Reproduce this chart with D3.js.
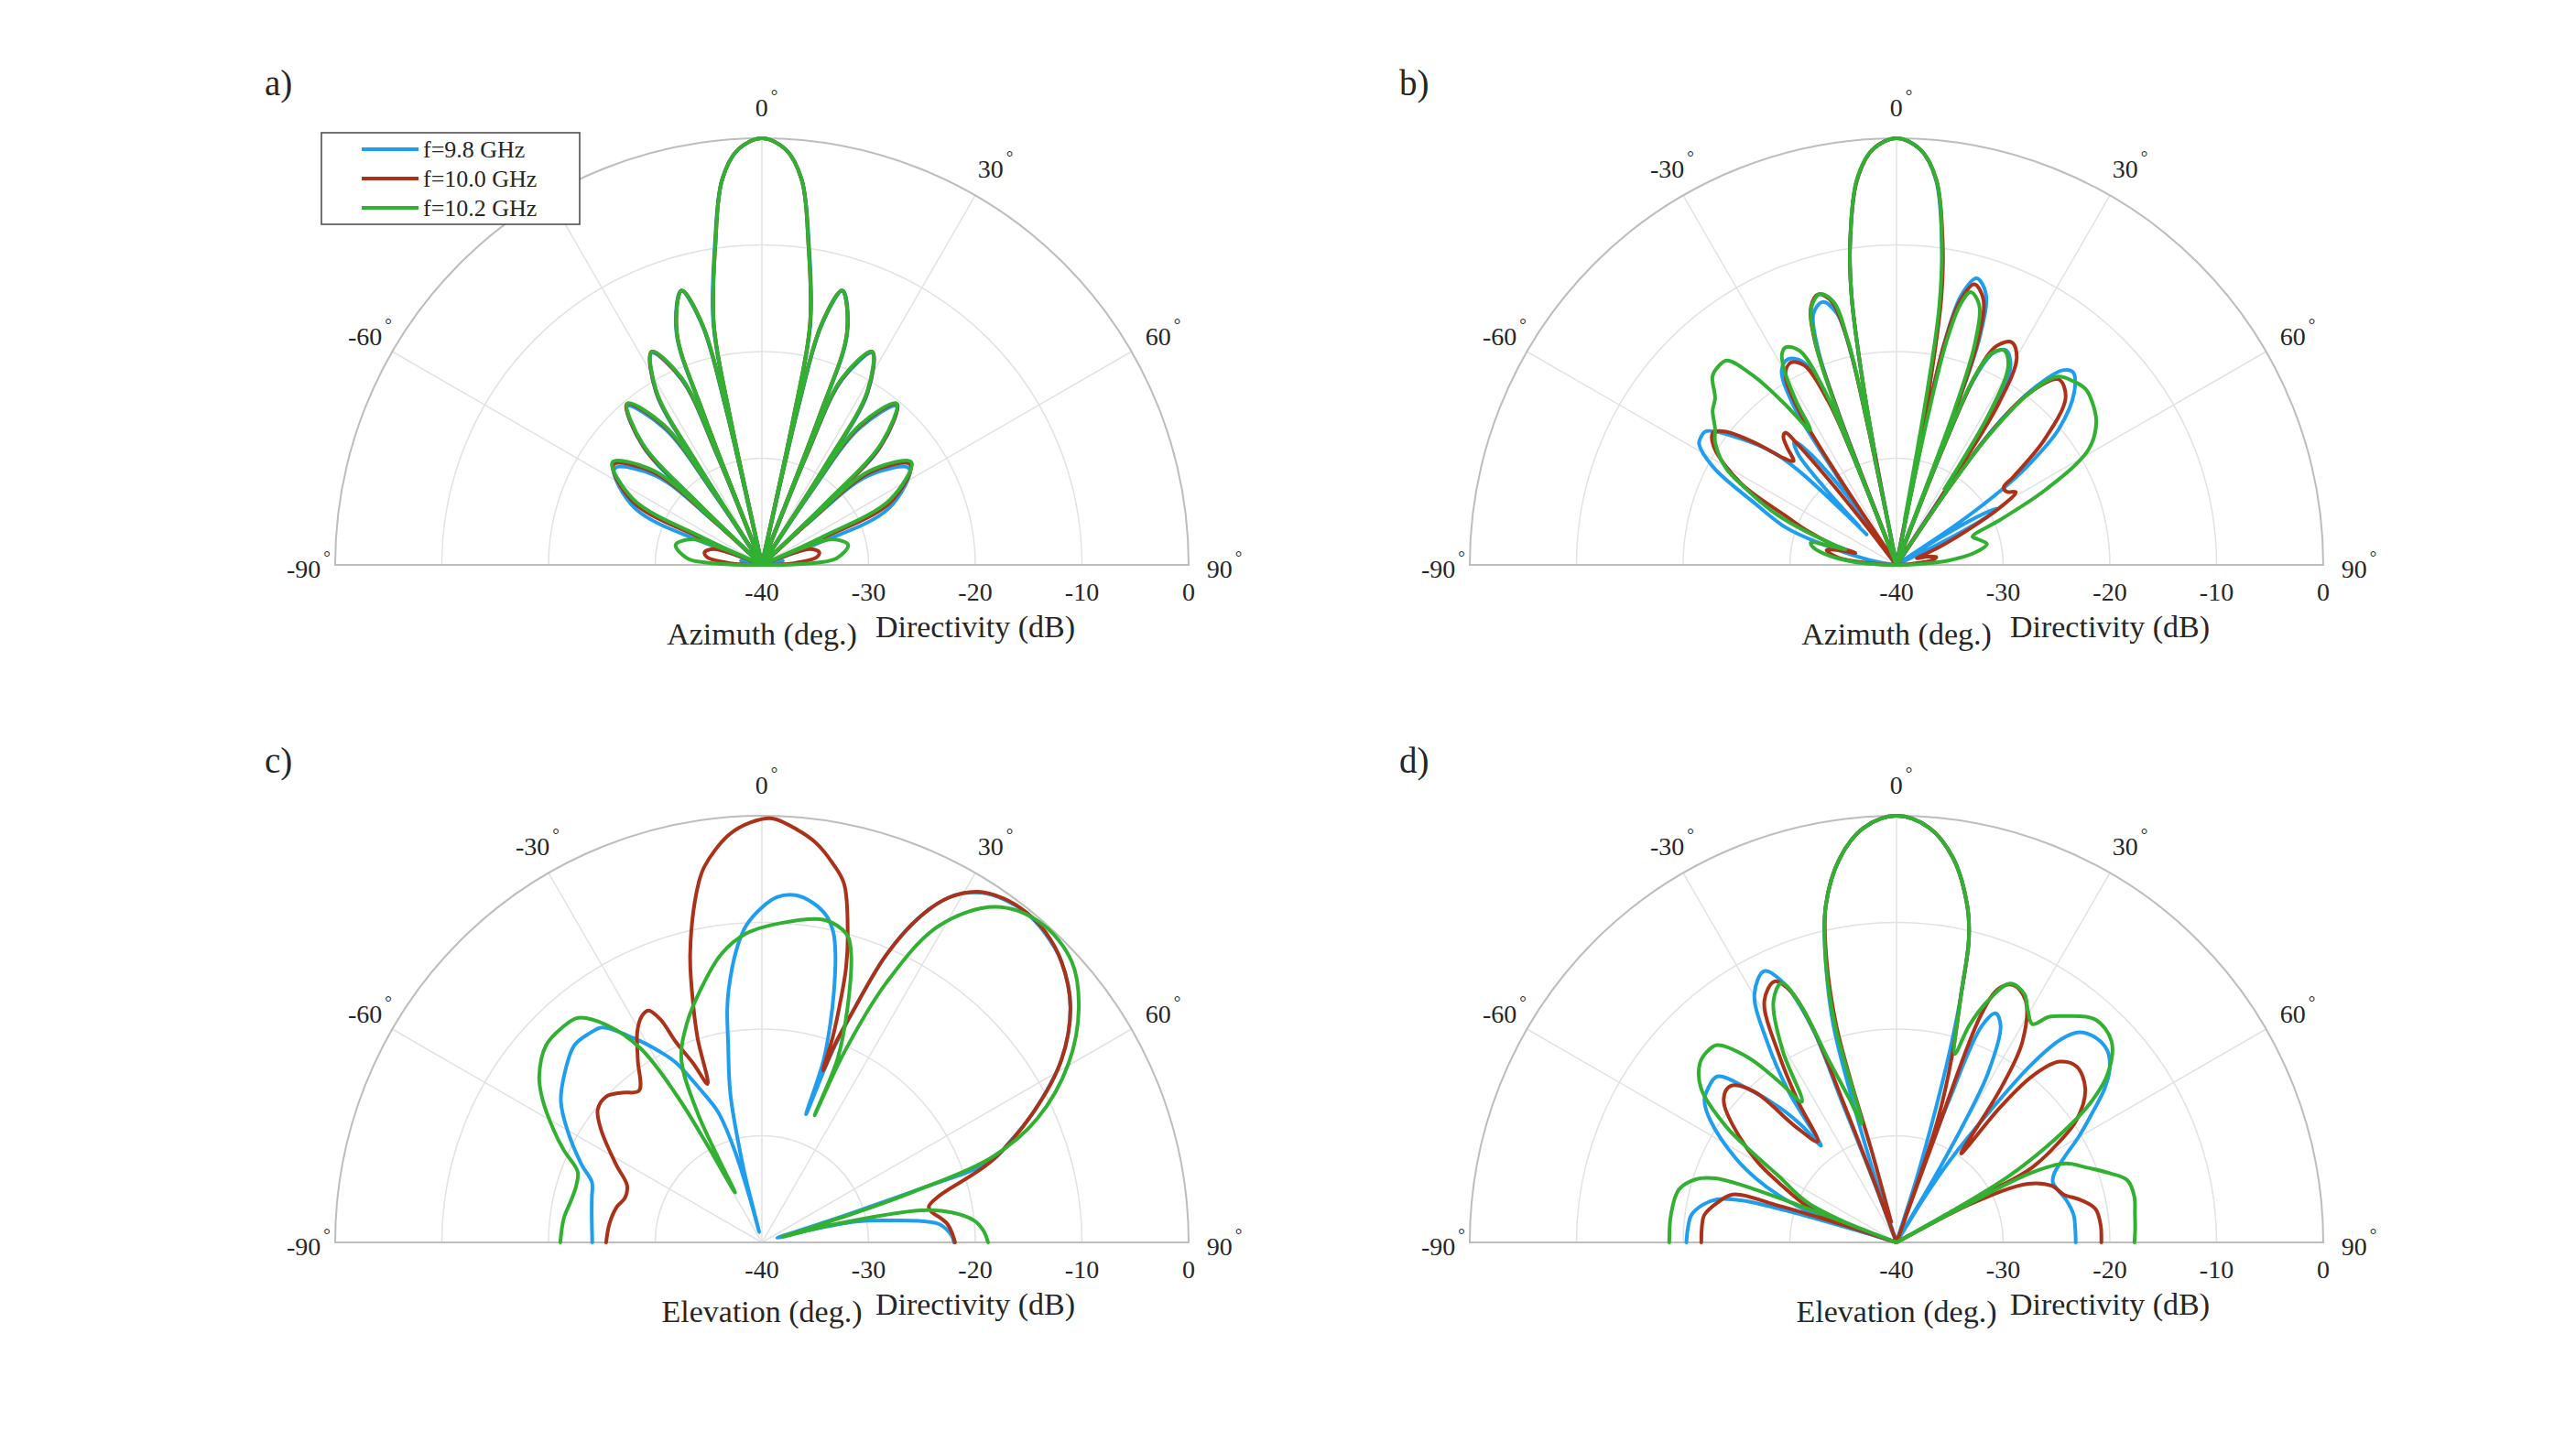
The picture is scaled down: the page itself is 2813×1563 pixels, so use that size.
<!DOCTYPE html>
<html>
<head>
<meta charset="utf-8">
<script src="https://cdn.jsdelivr.net/npm/d3@7"></script>
<style>
  body { margin: 0; background: #fff; }
  svg { display: block; }
  text { font-family: "Liberation Serif", "Times New Roman", serif; fill: #262626; }
</style>
</head>
<body>
<div id="chart"></div>
<script>
// ---- data: [angle (deg), directivity (dB)]; null = gap in the trace ----
const freqLabels = ["f=9.8 GHz", "f=10.0 GHz", "f=10.2 GHz"];
const panelLetters = ["a)", "b)", "c)", "d)"];
const angleAxisLabels = ["Azimuth (deg.)", "Azimuth (deg.)", "Elevation (deg.)", "Elevation (deg.)"];
const angleTicks = [-90, -60, -30, 0, 30, 60, 90];
const radialTicks = [-40, -30, -20, -10, 0];
const spokeAngles = [-60, -30, 0, 30, 60];

// a) azimuth
const azimuthA_98 = [[-90,-40],[-84,-38.5],[-79,-38],[-74,-38.7],[-70,-40],
  [-69,-35],[-66,-27],[-56.8,-23.5],[-50,-27],[-47.8,-34],[-47,-40],
  [-46.5,-32],[-45.1,-24.3],[-40.3,-20.5],[-35.5,-24.3],[-34,-32],[-33.3,-40],
  [-32.8,-29],[-31.6,-21.1],[-27.5,-17.6],[-23.4,-21.1],[-22.2,-29],[-21.6,-40],
  [-21.2,-25],[-20.2,-16.8],[-16.4,-13.2],[-14,-16.8],[-13,-25],[-12.6,-40],
  [-12.2,-26],[-11.4,-17],[-8.3,-9.5],[-5.9,-3.7],[-3.3,-1],[0,0],
  [3.3,-1],[5.9,-3.7],[8.3,-9.5],[11.4,-17],[12.2,-26],[12.6,-40],
  [13,-25],[14,-16.8],[16.4,-13.2],[20.2,-16.8],[21.2,-25],[21.6,-40],
  [22.2,-29],[23.4,-21.1],[27.5,-17.6],[31.6,-21.1],[32.8,-29],[33.3,-40],
  [34,-32],[35.5,-24.3],[40.3,-20.5],[45.1,-24.3],[46.5,-32],[47,-40],
  [47.8,-34],[50,-27],[56.8,-23.5],[66,-27],[69,-35],[70,-40],
  [74,-38.7],[79,-38],[84,-38.5],[90,-40]];
const azimuthA_100 = [[-90,-40],[-87,-37],[-82,-34.8],[-77.5,-34.5],[-72,-35.2],[-69,-37.5],[-67,-40],
  [-66.2,-34],[-64,-26.6],[-56,-23.2],[-49.5,-26.6],[-47.6,-34],[-46.8,-40],
  [-46.2,-32],[-44.8,-24.1],[-40,-20.3],[-35.2,-24.1],[-33.7,-32],[-33.1,-40],
  [-32.6,-29],[-31.4,-21],[-27.4,-17.5],[-23.3,-21],[-22.1,-29],[-21.5,-40],
  [-21.1,-25],[-20.1,-16.8],[-16.3,-13.2],[-13.9,-16.8],[-12.9,-25],[-12.5,-40],
  [-12.1,-26],[-11.3,-17],[-8.2,-9.5],[-5.9,-3.7],[-3.3,-1],[0,0],
  [3.3,-1],[5.9,-3.7],[8.2,-9.5],[11.3,-17],[12.1,-26],[12.5,-40],
  [12.9,-25],[13.9,-16.8],[16.3,-13.2],[20.1,-16.8],[21.1,-25],[21.5,-40],
  [22.1,-29],[23.3,-21],[27.4,-17.5],[31.4,-21],[32.6,-29],[33.1,-40],
  [33.7,-32],[35.2,-24.1],[40,-20.3],[44.8,-24.1],[46.2,-32],[46.8,-40],
  [47.6,-34],[49.5,-26.6],[56,-23.2],[64,-26.6],[66.2,-34],[67,-40],
  [69,-37.5],[72,-35.2],[77.5,-34.5],[82,-34.8],[87,-37],[90,-40]];
const azimuthA_102 = [[-90,-40],[-88.5,-36],[-85,-33],[-77,-31.7],[-70,-33],[-67.5,-36],[-66,-40],
  [-65.2,-34],[-63,-26.5],[-55.5,-23],[-49,-26.5],[-47.3,-34],[-46.5,-40],
  [-45.9,-32],[-44.5,-24],[-39.8,-20.3],[-35,-24],[-33.6,-32],[-33,-40],
  [-32.5,-29],[-31.3,-21],[-27.3,-17.5],[-23.2,-21],[-22,-29],[-21.5,-40],
  [-21.1,-25],[-20.1,-16.8],[-16.3,-13.2],[-13.9,-16.8],[-12.9,-25],[-12.5,-40],
  [-12.1,-26],[-11.3,-17],[-8.2,-9.5],[-5.9,-3.7],[-3.3,-1],[0,0],
  [3.3,-1],[5.9,-3.7],[8.2,-9.5],[11.3,-17],[12.1,-26],[12.5,-40],
  [12.9,-25],[13.9,-16.8],[16.3,-13.2],[20.1,-16.8],[21.1,-25],[21.5,-40],
  [22,-29],[23.2,-21],[27.3,-17.5],[31.3,-21],[32.5,-29],[33,-40],
  [33.6,-32],[35,-24],[39.8,-20.3],[44.5,-24],[45.9,-32],[46.5,-40],
  [47.3,-34],[49,-26.5],[55.5,-23],[63,-26.5],[65.2,-34],[66,-40],
  [67.5,-36],[70,-33],[77,-31.7],[85,-33],[88.5,-36],[90,-40]];

// b) azimuth
const azimuthB_98 = [[-90,-40],[-80,-37.5],[-74,-32.2],[-71.3,-29],[-66.7,-25.7],[-62,-20.6],[-58.5,-18.3],
  [-56.9,-18.1],[-54.9,-18.2],[-51,-21.2],[-47.5,-24.5],[-46,-27.5],[-45,-33],[-44.5,-36],[-44.3,null],
  [-44,-35],[-43,-30],[-41.5,-26],[-39.7,-25],[-38,-26.5],[-36.5,-29.5],[-35.3,-33],[-34.3,-40],
  [-33.8,-30],[-32.8,-22],[-30.5,-18.8],[-27.8,-18.2],[-24.8,-19],[-22.6,-23],[-21.8,-29],[-21.3,-40],
  [-20.9,-25],[-20,-18.5],[-18.3,-15.2],[-15.7,-14.4],[-13.3,-15.8],[-12.1,-20],[-11.6,-27],[-11.3,-40],
  [-10.9,-28],[-10.3,-21],[-9.5,-14.5],[-8.3,-9.8],[-5.9,-3.8],[-3.3,-1],[0,0],[3.3,-1],[5.9,-3.8],
  [8.1,-9.8],[9.4,-14.5],[10.2,-21],[10.8,-28],[11.3,-40],
  [11.6,-26],[12.2,-18.5],[13.5,-14],[15.6,-12.1],[18.2,-13.2],[20,-17],[20.8,-24],[21.2,-40],
  [21.7,-28],[22.7,-21],[24.5,-18.2],[27,-17.4],[29.8,-18.5],[31.9,-22.5],[33,-30],[33.5,-40],
  [34.2,-31],[35.5,-24],[38,-18.8],[40.5,-16],[42.4,-15.5],[45.7,-16.7],[50,-20.1],[52.9,-24.5],
  [54.5,-28],[56,-33],[57,-40],[58,-35],[59.3,-31],[60.6,-29.2],[62,-30.5],[63.5,-35],[64.5,-40]];
const azimuthB_100 = [[-90,-40],[-87,-38],[-83,-34.5],[-78,-33.3],[-75.5,-34.5],[-74,-36],[-72.5,-34],
  [-69,-31],[-66.3,-28.8],[-62.3,-23.5],[-57.1,-19.6],[-54.2,-18.8],[-52,-19.7],[-49.1,-22.6],
  [-46.5,-25.5],[-44.8,-26.3],[-43,-25],[-41.5,-24],[-40.1,-23.8],[-39.3,-25.5],[-38.5,-30],
  [-37.8,-36],[-35.5,-40],
  [-33.3,-30],[-32.2,-22.5],[-30.2,-19.3],[-27.6,-18.6],[-24.8,-19.4],[-22.6,-23.5],[-21.8,-29],[-21.3,-40],
  [-20.9,-24.5],[-20,-17.5],[-18.3,-14.5],[-16.1,-13.6],[-13.8,-14.6],[-12.3,-18.5],[-11.7,-26],[-11.5,-40],[-11.4,null],
  [-11.3,-35.5],[-10.9,-28],[-10.3,-21],[-9.5,-14.5],[-8.3,-9.8],[-5.9,-3.8],[-3.3,-1],[0,0],[3.3,-1],
  [5.9,-3.7],[8.2,-9.6],[9.5,-14.5],[10.3,-21],[10.9,-28],[11.3,-40],
  [11.6,-26],[12.2,-18.8],[13.5,-14.6],[15.5,-12.7],[18.1,-13.8],[19.9,-17.5],[20.8,-24.5],[21.2,-40],
  [21.7,-28],[22.7,-20.5],[24.6,-17.4],[27.4,-16.5],[30.2,-17.6],[32.3,-22],[33.2,-30],[33.6,-40],
  [34.3,-31],[35.5,-24.5],[37.8,-19.5],[41.2,-16.9],[45.3,-17.7],[49.8,-21.9],[53,-26.3],[54.1,-27.6],
  [56.4,-27.6],[58.6,-26.9],[61,-28.9],[63.8,-32.4],[67.5,-35.7],[70,-37.5],[72,-38],[75,-37],
  [78.7,-36.2],[82,-36.5],[86,-38.5],[90,-40]];
const azimuthB_102 = [[-90,-40],[-88,-38],[-86,-36],[-82,-33.5],[-78,-32],[-75.4,-31.7],[-74.2,-33],
  [-73.3,-35],[-72,-33.7],[-69,-30],[-66.5,-27.2],[-63,-24],[-60.4,-21.6],[-56,-19.5],[-53,-18.7],
  [-50,-17.5],[-47.4,-16.9],[-44.3,-15.3],[-42,-15],[-39.7,-15.1],[-37.1,-17.8],[-34.8,-21.6],
  [-32.6,-25],[-31.5,-22],[-30,-19],[-28.5,-17.5],[-26.9,-17.1],[-24.3,-18],[-22.5,-22],[-21.8,-28],[-21.5,-40],
  [-21.1,-25],[-20.1,-18],[-18.3,-14.6],[-15.8,-13.6],[-13.5,-14.6],[-12.2,-18.5],[-11.6,-26],[-11.4,-40],[-11.2,null],
  [-11,-29.3],[-10.3,-21],[-9.5,-14.5],[-8.2,-9.5],[-5.9,-3.7],[-3.3,-1],[0,0],[3.3,-1],[5.9,-3.7],
  [8.1,-9.8],[9.4,-15.5],[10,-23],[10.3,-35.8],[10.5,null],
  [11.5,-40],[11.9,-26],[12.6,-18.5],[13.8,-14.8],[15.2,-13.5],[17.6,-14.4],[19.5,-18],[20.5,-24.5],[21,-40],
  [21.6,-28],[22.5,-21],[24.3,-18.2],[26.7,-17.5],[29.3,-18.6],[31.4,-23],[32.3,-31.6],[32.5,null],
  [33.5,-40],[34.3,-31],[35.5,-25],[37.5,-20],[40.5,-16.8],[43.9,-16.1],[47,-15.8],[50,-16.1],
  [54.5,-17],[59,-19],[63.2,-24.3],[66.5,-29.4],[69.6,-32.4],[72.5,-32],[77,-31.3],[81,-32.5],
  [85,-35],[88,-38],[90,-40]];

// c) elevation
const elevationC_98 = [[-90,-24.1],[-80,-23.8],[-75,-23.5],[-70.5,-23.1],[-66.7,-21.6],[-59.9,-18.9],
  [-55,-17],[-50.1,-15.8],[-43.6,-14.5],[-39.5,-14.6],[-36.6,-14.9],[-32.1,-17.4],[-28,-19.8],
  [-25.6,-21.3],[-22,-24.5],[-18.6,-27.1],[-16.5,-31],[-15.2,-36],[-14.7,-39],[-14.2,-34],
  [-13.9,-32.5],[-12,-25.8],[-9.6,-21],[-8.5,-18],[-7.5,-16.1],[-5,-12.5],[-2.9,-10.3],[0,-8.6],
  [2.5,-7.6],[5.5,-7.3],[8.5,-7.8],[11.2,-8.8],[13,-10.2],[14.3,-12.1],[16,-15.5],[17.4,-18.6],
  [18.7,-22],[19,-27.3],[19.6,-24.5],[20.2,-21],[21.4,-17],[23.4,-10.6],[26,-5.9],[29,-2.8],
  [32.1,-1.3],[35.5,-0.6],[38.7,-0.4],[42.5,-0.7],[46.8,-1.5],[52.6,-3.6],[58.6,-7.1],[64.4,-11.8],
  [68,-15],[70.5,-17.2],[71.3,-24],[71.8,-30],[72.5,-36],[73.5,-38.5],[75.5,-35.5],[77.5,-31],
  [80,-28.1],[84.1,-23.3],[88,-22.2],[90,-22]];
const elevationC_100 = [[-90,-25.4],[-83,-25.6],[-76.2,-26],[-72,-26.5],[-67.2,-26.3],[-61.9,-24.5],
  [-55,-21.6],[-51,-20.2],[-46.9,-20],[-43,-20.8],[-39,-21.7],[-34.2,-19.3],[-30.5,-17],[-28,-16],
  [-26.1,-15.8],[-24.5,-17],[-23.2,-19.6],[-21,-22],[-18.9,-24.3],[-17.5,-20],[-16.2,-17],[-14,-12.2],
  [-10.5,-6.5],[-8.75,-4.4],[-4.7,-1.7],[-1.5,-0.6],[1.4,-0.24],[5,-1.2],[7.7,-2.2],[10.5,-3.8],
  [12.9,-5.5],[15.5,-9.9],[17,-13],[18,-16.1],[19,-19.5],[19.6,-22.9],[20.3,-20],[21.4,-17],
  [23.4,-10.6],[26,-5.9],[28.5,-3.2],[31.6,-1.4],[35,-0.6],[38.7,-0.35],[42.5,-0.6],[46.8,-1.5],
  [52.6,-3.6],[58.6,-7.1],[64.4,-11.8],[70.5,-17.2],[75.4,-22.9],[77.9,-24],[80,-23.8],[81.9,-23.2],
  [84.5,-22.5],[87.7,-22.1],[90,-21.9]];
const elevationC_102 = [[-90,-21.1],[-83,-21.3],[-77.4,-21.7],[-73,-21.8],[-69,-21.5],[-65,-19.5],
  [-61.6,-17.8],[-57,-15.5],[-53.4,-14],[-47.6,-12.6],[-43,-12.5],[-39.3,-12.8],[-35.6,-14.9],
  [-32,-18.6],[-30.1,-24],[-29.3,-29],[-28.3,-34.7],[-27.3,-31],[-26.4,-26.4],[-23.8,-21.3],
  [-19.1,-18.4],[-13.6,-15.6],[-8,-12.7],[-2.9,-11],[3.5,-10],[10.7,-9.2],[13.5,-9.5],[15.7,-10.2],
  [17.2,-11.7],[20,-16.5],[22.4,-21.4],[22.5,-27.1],[23.4,-20.6],[25.6,-13],[29.2,-6],[34.8,-1.7],
  [41.1,-0.25],[47.8,-0.8],[53.4,-3],[59.7,-6.7],[65.8,-11.7],[69.7,-17],[71.5,-25],[72.5,-31],
  [73.5,-36],[74.5,-38],[76,-33],[78.6,-24.8],[81,-22],[84.1,-20],[87,-19.2],[90,-18.8]];

// d) elevation
const elevationD_98 = [[-90,-20.3],[-86,-20.4],[-82.4,-20.6],[-79,-21.5],[-76.5,-22.7],[-74.8,-25],
  [-73.8,-30],[-73.2,-36],[-72.8,-40],[-72,-34],[-70.5,-31],[-68.3,-28.2],[-65.5,-25.5],[-62.4,-23],
  [-56.7,-19.1],[-53.5,-17.6],[-50.9,-17.2],[-47.2,-17.1],[-44,-20],[-40.9,-23.3],[-39,-26],
  [-38,-28.5],[-35.5,-22.5],[-32.8,-17.6],[-29.8,-13.2],[-26,-11.7],[-23.5,-13.5],[-21.5,-18.2],
  [-21.2,-26],[-20.5,-34],[-19.5,-40],[-18.3,-34],[-17.5,-28],[-17.1,-24.9],[-16.2,-18.8],
  [-14.2,-13],[-11.9,-7.8],[-8.4,-3.6],[-4.5,-1],[0,0],[4.5,-1],[8.4,-3.6],[11.9,-7.8],[13.3,-10.5],
  [14.6,-16],[15.5,-21],[16.5,-28],[17.5,-34],[18.7,-40],[19.3,-33],[20.3,-25.6],[21.5,-18.2],
  [23.4,-16.6],[25.7,-17.5],[28.4,-22],[29.5,-27],[30.3,-33],[31,-40],[31.8,-35],[33,-31],
  [34.3,-27.9],[37.2,-19],[39,-15.5],[41,-13.9],[44.5,-13.2],[47.8,-13.3],[51,-14.3],[53.6,-15.8],
  [56.5,-18],[59.8,-20.2],[63,-22.3],[66.5,-23.9],[69,-24.3],[71.9,-24.1],[76,-23.6],[81.2,-23.2],
  [86,-23.2],[90,-23.2]];
const elevationD_100 = [[-90,-21.7],[-85,-21.7],[-81.9,-21.8],[-77.5,-22.8],[-73.7,-24],[-72.7,-28.5],
  [-72,-34],[-71.5,-40],[-70.8,-34.7],[-68,-31],[-63.2,-27.7],[-60,-25],[-56,-22.2],[-51.3,-19.3],
  [-48.5,-18.6],[-46.3,-18.7],[-43.3,-20.6],[-41.1,-25.6],[-38,-28],[-35,-24],[-32.2,-19.5],
  [-28.7,-14.2],[-25,-13],[-22.8,-14.5],[-21.3,-18.5],[-20.8,-26],[-20.2,-34],[-19.5,-40],[-17,null],
  [-14.6,-38],[-15.2,-31],[-15.8,-24],[-15.5,-18.8],[-14,-13],[-11.9,-7.8],[-8.4,-3.6],[-4.5,-1],
  [0,0],[4.5,-1],[8.4,-3.6],[11.9,-7.8],[13.5,-11],[14.6,-16],[16.5,-21.5],[18.6,-27.9],[19.1,-37.7],
  [19.3,null],[19.5,-40],[20,-30],[20.4,-17.1],[22,-14.3],[24.4,-13.5],[28.1,-14.3],[32.1,-17.8],
  [34.1,-22.6],[36,-29.7],[37.5,-24],[39.2,-19.9],[42,-17.2],[45.7,-16.4],[50.9,-17.2],[55.8,-19.6],
  [58.5,-22.3],[61.1,-25.5],[61.5,-30],[62,-40],[62.7,-32],[66,-26.5],[70,-24.5],[74,-23.7],
  [77,-22.3],[80.4,-21.1],[85,-20.8],[90,-20.8]];
const elevationD_102 = [[-90,-18.7],[-83,-18.7],[-76.4,-19],[-72.5,-20.3],[-70.5,-22],[-69.6,-25],
  [-69.2,-30],[-69,-35],[-68.8,-40],[-68.3,-34.6],[-66,-31],[-63.5,-29.3],[-60.8,-27.5],[-58,-24],
  [-55.8,-20.7],[-51.8,-16.7],[-47.8,-15.1],[-45,-14.8],[-42.3,-15],[-38.7,-17.8],[-36.1,-21.4],
  [-33.9,-24.1],[-30.7,-19.1],[-27,-14.6],[-23.9,-13.4],[-22,-16],[-20.5,-21.5],[-18.2,-25.8],
  [-16.3,-28.4],[-16,-22],[-15.8,-18.8],[-14.2,-13],[-11.9,-7.8],[-8.4,-3.6],[-4.5,-1],[0,0],
  [4.5,-1],[8.4,-3.6],[11.9,-7.8],[13.5,-11],[14.6,-16],[17.2,-21.5],[18.5,-18.6],[20.7,-15.8],
  [23.7,-13.5],[27.2,-13.8],[29.5,-15],[31.9,-15.9],[34,-14.5],[36.5,-13.6],[41.7,-12],[46.9,-12.4],
  [51.3,-14.6],[54.4,-17.8],[57.4,-23.2],[59.5,-28],[60.5,-34],[61,-40],[61.8,-33],[62.7,-25.7],
  [65,-22.5],[68.4,-20.9],[72,-19],[74.9,-17.6],[79,-17.3],[83.4,-17.5],[87,-17.6],[90,-17.7]];

const panelSeries = [
  [azimuthA_98, azimuthA_100, azimuthA_102],
  [azimuthB_98, azimuthB_100, azimuthB_102],
  [elevationC_98, elevationC_100, elevationC_102],
  [elevationD_98, elevationD_100, elevationD_102]
];

// ---- layout ----
const width = 2813, height = 1563, R = 466;
const centers = [[832, 617], [2071, 617], [832, 1357], [2071, 1357]];
const colors = ["#1f9ef0", "#ab3219", "#31b032"];

const svg = d3.select("#chart")
  .append("svg")
    .attr("width", width)
    .attr("height", height);

const rScale = d3.scaleLinear().domain([-40, 0]).range([0, R]).clamp(true);
const rad = d => d * Math.PI / 180;

const radialLine = d3.lineRadial()
  .defined(d => d[1] !== null)
  .angle(d => rad(d[0]))
  .radius(d => rScale(d[1]))
  .curve(d3.curveCatmullRom.alpha(0.5));

const halfCircle = rr => {
  const p = d3.path();
  p.arc(0, 0, rr, Math.PI, 2 * Math.PI);
  return p.toString();
};

panelSeries.forEach((series, i) => {
  const g = svg.append("g")
      .attr("transform", `translate(${centers[i][0]},${centers[i][1]})`);

  // grid rings
  g.selectAll(".ring")
    .data(radialTicks.filter(v => v > -40 && v < 0))
    .enter()
    .append("path")
      .attr("class", "ring")
      .attr("d", v => halfCircle(rScale(v)))
      .attr("fill", "none")
      .attr("stroke", "#e2e2e2")
      .attr("stroke-width", 1.5);

  // spokes
  g.selectAll(".spoke")
    .data(spokeAngles)
    .enter()
    .append("line")
      .attr("class", "spoke")
      .attr("x1", 0).attr("y1", 0)
      .attr("x2", a => R * Math.sin(rad(a)))
      .attr("y2", a => -R * Math.cos(rad(a)))
      .attr("stroke", "#e2e2e2")
      .attr("stroke-width", 1.5);

  // outer boundary
  g.append("path")
    .attr("d", halfCircle(R) + "Z")
    .attr("fill", "none")
    .attr("stroke", "#bdbdbd")
    .attr("stroke-width", 2);

  // radial tick labels
  g.selectAll(".rtick")
    .data(radialTicks)
    .enter()
    .append("text")
      .attr("class", "rtick")
      .attr("x", v => rScale(v))
      .attr("y", 29)
      .attr("text-anchor", "middle")
      .attr("dominant-baseline", "central")
      .style("font-size", "28px")
      .text(v => v);

  // angle tick labels (the -30 label of panel a sits under the legend)
  const at = g.selectAll(".atick")
    .data(angleTicks.filter(a => !(i === 0 && a === -30)))
    .enter()
    .append("text")
      .attr("class", "atick")
      .attr("x", a => (R + 34) * Math.sin(rad(a)) + 5)
      .attr("y", a => -(R + 34) * Math.cos(rad(a)) + (Math.abs(a) === 90 ? 4 : 0))
      .attr("text-anchor", "middle")
      .attr("dominant-baseline", "central")
      .style("font-size", "28px");
  at.append("tspan").text(a => a);
  at.append("tspan")
    .attr("dx", 3)
    .attr("dy", -13)
    .style("font-size", "19px")
    .text("\u00B0");

  // axis labels
  g.append("text")
    .attr("x", 0)
    .attr("y", 75)
    .attr("text-anchor", "middle")
    .attr("dominant-baseline", "central")
    .style("font-size", "34px")
    .text(angleAxisLabels[i]);

  g.append("text")
    .attr("x", R / 2)
    .attr("y", 67)
    .attr("text-anchor", "middle")
    .attr("dominant-baseline", "central")
    .style("font-size", "34px")
    .text("Directivity (dB)");

  // panel letter
  g.append("text")
    .attr("x", -543)
    .attr("y", -527)
    .attr("dominant-baseline", "central")
    .style("font-size", "39px")
    .text(panelLetters[i]);

  // pattern traces
  g.selectAll(".trace")
    .data(series)
    .enter()
    .append("path")
      .attr("class", "trace")
      .attr("d", radialLine)
      .attr("fill", "none")
      .attr("stroke", (d, k) => colors[k])
      .attr("stroke-width", 4)
      .attr("stroke-linejoin", "round")
      .attr("stroke-linecap", "round");
});

// legend (panel a)
const legend = svg.append("g").attr("transform", "translate(351,145)");
legend.append("rect")
  .attr("width", 282)
  .attr("height", 100)
  .attr("fill", "#fff")
  .attr("stroke", "#444")
  .attr("stroke-width", 1.5);

const items = legend.selectAll(".item")
  .data(freqLabels)
  .enter()
  .append("g")
    .attr("class", "item")
    .attr("transform", (d, k) => `translate(0,${18 + k * 32})`);
items.append("line")
  .attr("x1", 44).attr("x2", 106)
  .attr("stroke", (d, k) => colors[k])
  .attr("stroke-width", 4);
items.append("text")
  .attr("x", 111)
  .attr("dominant-baseline", "central")
  .style("font-size", "26px")
  .text(d => d);
</script>
</body>
</html>
